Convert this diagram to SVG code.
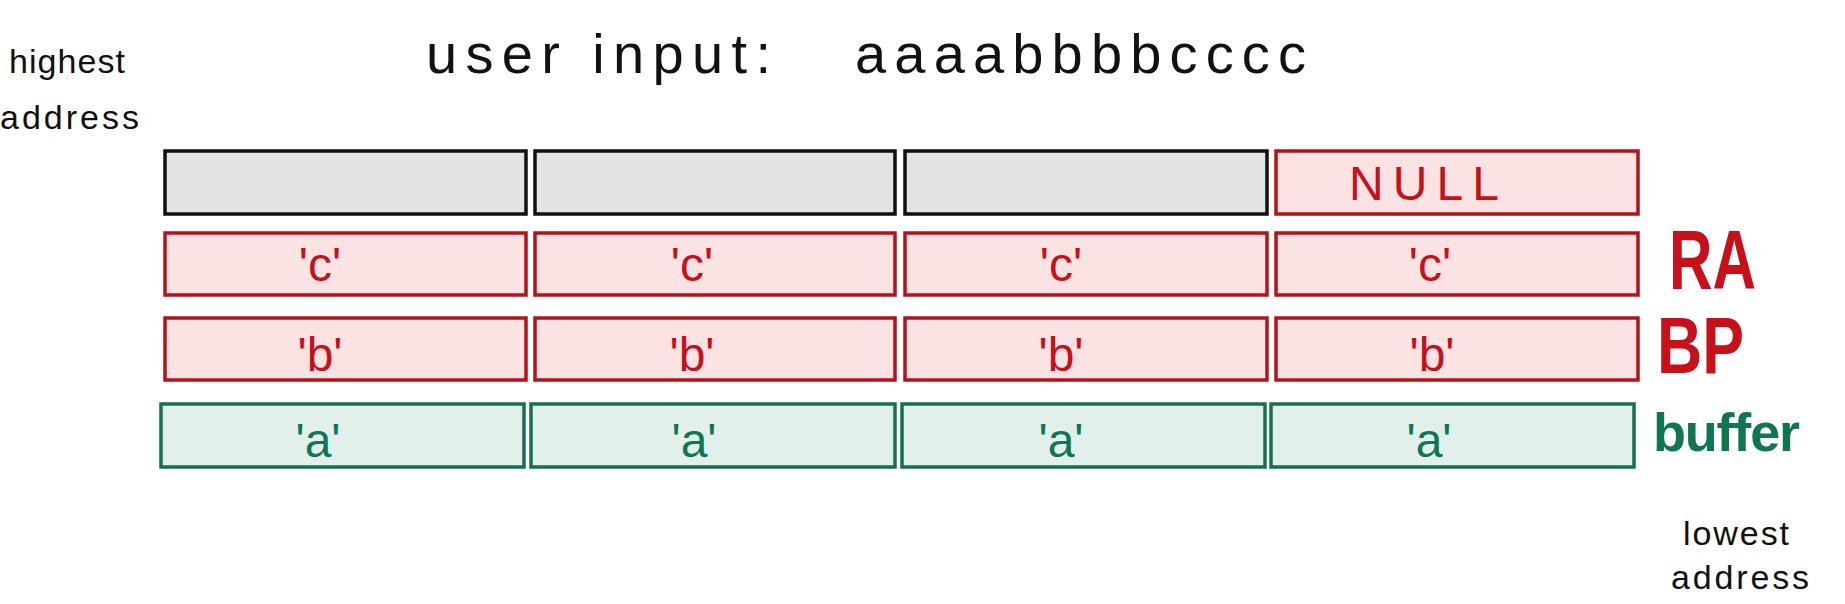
<svg xmlns="http://www.w3.org/2000/svg" width="1845" height="604" viewBox="0 0 1845 604">
<style>
text{font-family:"Liberation Sans","DejaVu Sans",sans-serif}
.k{fill:#111}
.gray{fill:#e3e3e3;stroke:#111;stroke-width:3.5}
.red{fill:#fbe3e3;stroke:#b3141c;stroke-width:3.5}
.grn{fill:#e2f0ec;stroke:#16704f;stroke-width:3.5}
.rt{fill:#c8101a;font-size:48px;text-anchor:middle}
.gt{fill:#0f7552;font-size:48px;text-anchor:middle}
.side{font-size:34px;fill:#111}
</style>
<rect width="1845" height="604" fill="#fff"/>
<g id="title">
<text class="k" x="426" y="73" font-size="56" textLength="345" lengthAdjust="spacing">user input:</text>
<text class="k" x="855" y="73" font-size="56" textLength="451" lengthAdjust="spacing">aaaabbbbcccc</text>
</g>
<g id="highest-address">
<text class="side" x="9" y="73" textLength="116" lengthAdjust="spacing">highest</text>
<text class="side" x="0" y="129" textLength="139" lengthAdjust="spacing">address</text>
</g>
<g id="lowest-address">
<text class="side" x="1683" y="545" textLength="106" lengthAdjust="spacing">lowest</text>
<text class="side" x="1671" y="589" textLength="138" lengthAdjust="spacing">address</text>
</g>
<g id="row-top">
<g id="top-1"><rect class="gray" x="165" y="151" width="361" height="63"/></g>
<g id="top-2"><rect class="gray" x="535" y="151" width="360" height="63"/></g>
<g id="top-3"><rect class="gray" x="905" y="151" width="362" height="63"/></g>
<g id="top-null"><rect class="red" x="1276" y="151" width="362" height="63"/><text class="rt" x="1424" y="200" font-size="48" textLength="150" lengthAdjust="spacing">NULL</text></g>
</g>
<g id="row-ra">
<g id="ra-1"><rect class="red" x="165" y="233" width="361" height="62"/><text class="rt" x="320" y="281">'c'</text></g>
<g id="ra-2"><rect class="red" x="535" y="233" width="360" height="62"/><text class="rt" x="692" y="281">'c'</text></g>
<g id="ra-3"><rect class="red" x="905" y="233" width="362" height="62"/><text class="rt" x="1061" y="281">'c'</text></g>
<g id="ra-4"><rect class="red" x="1276" y="233" width="362" height="62"/><text class="rt" x="1430" y="281">'c'</text></g>
<text x="1669" y="289" fill="#c8101a" font-size="84" font-weight="bold" textLength="87" lengthAdjust="spacingAndGlyphs">RA</text>
</g>
<g id="row-bp">
<g id="bp-1"><rect class="red" x="165" y="318" width="361" height="62"/><text class="rt" x="320" y="371">'b'</text></g>
<g id="bp-2"><rect class="red" x="535" y="318" width="360" height="62"/><text class="rt" x="692" y="371">'b'</text></g>
<g id="bp-3"><rect class="red" x="905" y="318" width="362" height="62"/><text class="rt" x="1061" y="371">'b'</text></g>
<g id="bp-4"><rect class="red" x="1276" y="318" width="362" height="62"/><text class="rt" x="1432" y="371">'b'</text></g>
<text x="1657" y="373" fill="#c8101a" font-size="80" font-weight="bold" textLength="87" lengthAdjust="spacingAndGlyphs">BP</text>
</g>
<g id="row-buffer">
<g id="buf-1"><rect class="grn" x="161" y="404" width="363" height="63"/><text class="gt" x="318" y="457">'a'</text></g>
<g id="buf-2"><rect class="grn" x="531" y="404" width="364" height="63"/><text class="gt" x="694" y="457">'a'</text></g>
<g id="buf-3"><rect class="grn" x="902" y="404" width="363" height="63"/><text class="gt" x="1061" y="457">'a'</text></g>
<g id="buf-4"><rect class="grn" x="1271" y="404" width="363" height="63"/><text class="gt" x="1429" y="457">'a'</text></g>
<text x="1653" y="451" fill="#0f7552" font-size="54" font-weight="bold" textLength="147" lengthAdjust="spacing">buffer</text>
</g>
<g id="connectors"></g>
</svg>
